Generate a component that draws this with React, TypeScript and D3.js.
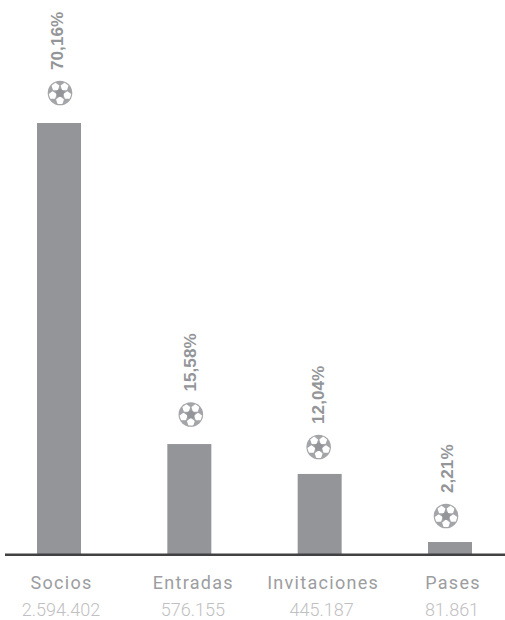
import React from 'react';
import * as d3 from 'd3';

const categories = ['Socios', 'Entradas', 'Invitaciones', 'Pases'];
const counts = ['2.594.402', '576.155', '445.187', '81.861'];
const shares = ['70,16%', '15,58%', '12,04%', '2,21%'];
// bar lengths, in percent units (the bars are not to scale with the labels)
const barValues = [70.16, 17.9, 13.03, 1.95];
// gap between bar top and ball centre, ball x shift from the bar centre
const ballGaps = [30, 29.5, 27, 26];
const ballShifts = [1, 1.5, -1, -4];
const shareShifts = [4, 6.5, 4, 3];
const nameShifts = [2.5, 4, 3.5, 3];
const countShifts = [2, 3.5, 2, 2];

const width = 505;
const height = 620;
const baseY = 554;
const barWidth = 44;

const x = d3.scalePoint<string>().domain(categories).range([59, 450]);
const y = d3.scaleLinear().domain([0, 70.16]).range([baseY, 123]);

const GREY = '#939598';
const radial = d3.lineRadial<[number, number]>().curve(d3.curveLinearClosed);

const pentagon = (r: number, rot: number) =>
  radial(d3.range(5).map(i => [rot + (i * 2 * Math.PI) / 5, r] as [number, number])) || '';

// football: grey disc, centre pentagon and five white panels around it
const Ball: React.FC<{ cx: number; cy: number }> = ({ cx, cy }) => (
  <g transform={`translate(${cx},${cy})`}>
    <circle r={12.3} fill="#a3a5a8" />
    {d3.range(5).map(i => (
      <g key={i} transform={`rotate(${36 + i * 72}) translate(0,-7.7)`}>
        <path
          d={pentagon(3.3, Math.PI)}
          fill="#fff"
          stroke="#fff"
          strokeWidth={1.4}
          strokeLinejoin="round"
        />
      </g>
    ))}
    <path d={pentagon(4.6, 0)} fill={GREY} />
  </g>
);

export default function App() {
  return (
    <svg
      width={width}
      height={height}
      viewBox={`0 0 ${width} ${height}`}
      style={{ position: 'absolute', left: 0, top: 0, background: '#fff' }}
    >
      {categories.map((c, i) => (
        <rect
          key={c}
          x={x(c)! - barWidth / 2}
          y={y(barValues[i])}
          width={barWidth}
          height={baseY - y(barValues[i])}
          fill={GREY}
        />
      ))}
      <line x1={5} x2={505} y1={baseY + 0.8} y2={baseY + 0.8} stroke="#414042" strokeWidth={2.4} />

      {categories.map((c, i) => {
        const ballY = y(barValues[i]) - ballGaps[i];
        return (
          <g key={c}>
            <Ball cx={x(c)! + ballShifts[i]} cy={ballY} />
            <text
              transform={`translate(${x(c)! + shareShifts[i]},${ballY - 23}) rotate(-90)`}
              fontFamily="Liberation Sans, Arial, sans-serif"
              fontWeight={700}
              fontSize={17.2}
              fill={GREY}
            >
              {shares[i]}
            </text>
            <text
              x={x(c)! + nameShifts[i]}
              y={589}
              textAnchor="middle"
              fontFamily="Roboto, Inter, sans-serif"
              fontSize={18}
              letterSpacing={1.3}
              fill="#9c9da0"
            >
              {c}
            </text>
            <text
              x={x(c)! + countShifts[i]}
              y={616}
              textAnchor="middle"
              fontFamily="Roboto, Inter, sans-serif"
              fontWeight={300}
              fontSize={18}
              fill="#bfc0c2"
            >
              {counts[i]}
            </text>
          </g>
        );
      })}
    </svg>
  );
}
